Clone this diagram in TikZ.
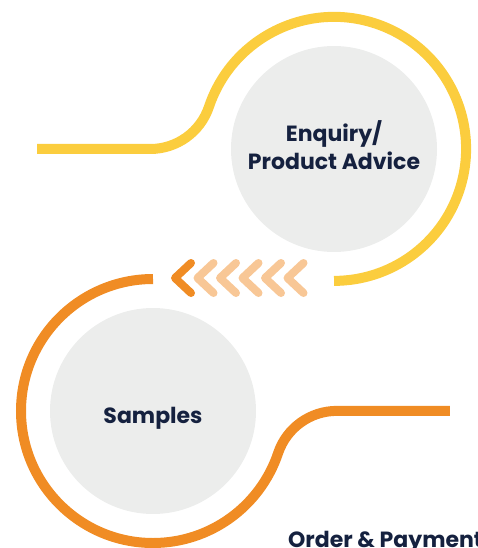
\documentclass[tikz,border=0pt]{standalone}
\usepackage{fontspec}
\setmainfont{Poppins}
\usetikzlibrary{positioning}

\definecolor{ringyel}{HTML}{FBCD3E}
\definecolor{ringorg}{HTML}{F08C24}
\definecolor{chevlt}{HTML}{F8C796}
\definecolor{discgray}{HTML}{ECEDEC}
\definecolor{inknavy}{HTML}{15213F}

\begin{document}
\begin{tikzpicture}[
  x=1pt, y=1pt,
  disc/.style={circle, fill=discgray, minimum size=206pt, inner sep=0pt,
               align=center, text=inknavy, font=\bfseries\fontsize{22}{28}\selectfont},
  ring/.style={line width=10pt, draw=#1, line cap=butt},
  chev/.style={line width=8pt, draw=#1, line cap=round, line join=round},
  lbl/.style={text=inknavy, font=\bfseries\fontsize{22}{28}\selectfont, inner sep=0pt}
]
  \clip (0,0) rectangle (478,-548);

  % ========== DISCS ==========
  \node[disc, text height=44pt, text depth=4pt] (enq) at (334,-149)
    {Enquiry/\\Product Advice};
  \node[disc, text height=30pt, text depth=5pt] (smp) at (153,-411) {Samples};

  % ========== YELLOW RING ==========
  \coordinate (yst) at (37,-149);
  \draw[ring=ringyel] (yst) -- ++(113.2,0)
    arc[start angle=-90, end angle=-18.6, radius=62pt]
    arc[start angle=161.4, end angle=-90, radius=132pt];

  % ========== ORANGE RING ==========
  \coordinate (ost) at ([yshift=132pt]smp.center);
  \draw[ring=ringorg] (ost)
    arc[start angle=90, end angle=341.4, radius=132pt]
    arc[start angle=161.4, end angle=90, radius=62pt] -- ++(113.1,0);

  % ========== CHEVRONS ==========
  \draw[chev=ringorg] (191,-263) -- ++(-16,-15) -- ++(16,-15);
  \foreach \i in {1,...,5}
    \draw[chev=chevlt] (191+22.5*\i,-263) -- ++(-16,-15) -- ++(16,-15);

  % ========== NEXT STEP ==========
  \node[lbl, anchor=base west] (ord) at (288,-547) {Order \& Payment};

\end{tikzpicture}
\end{document}
